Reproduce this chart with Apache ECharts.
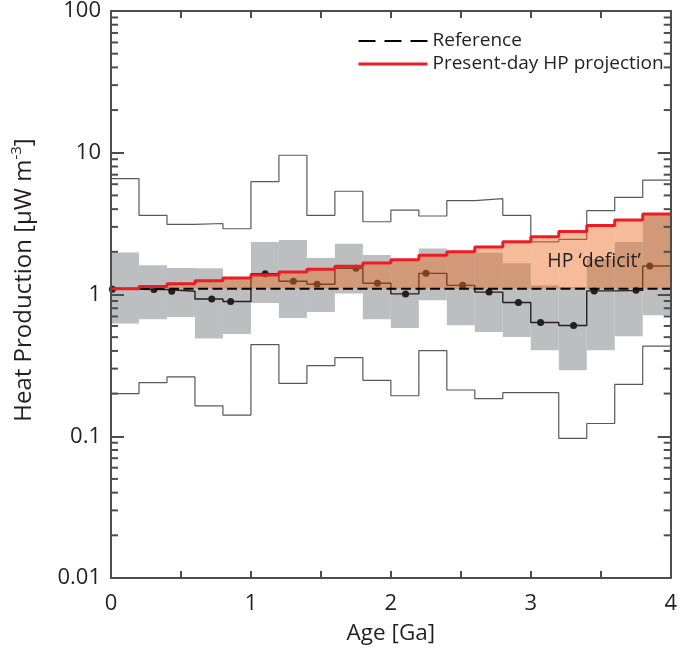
<!DOCTYPE html>
<html>
<head>
<meta charset="utf-8">
<script src="https://cdn.jsdelivr.net/npm/echarts@6/dist/echarts.min.js"></script>
<style>
  html, body { margin: 0; padding: 0; background: #fff; }
  #chart { width: 680px; height: 653px; }
</style>
</head>
<body>
<div id="chart"></div>
<script>
// Age bins (Ga), 0.2 Ga wide
const binEdges = [0, 0.2, 0.4, 0.6, 0.8, 1.0, 1.2, 1.4, 1.6, 1.8, 2.0, 2.2, 2.4, 2.6, 2.8, 3.0, 3.2, 3.4, 3.6, 3.8, 4.0];

// Heat production per bin (µW m^-3)
const upperEnvelope = [6.56, 3.62, 3.12, 3.17, 2.91, 6.25, 9.6, 3.62, 5.35, 3.26, 3.94, 3.58, 4.59, 4.74, 3.62, 2.35, 2.45, 3.90, 4.85, 6.4];
const lowerEnvelope = [0.200, 0.239, 0.262, 0.164, 0.141, 0.443, 0.236, 0.315, 0.359, 0.248, 0.193, 0.402, 0.212, 0.184, 0.203, 0.203, 0.0965, 0.123, 0.232, 0.433];
const quartileHigh = [1.98, 1.61, 1.54, 1.53, 1.32, 2.35, 2.42, 1.81, 2.28, 1.90, 1.76, 2.11, 2.00, 1.97, 1.66, 1.16, 1.13, 1.78, 2.35, 3.73];
const quartileLow = [0.624, 0.669, 0.695, 0.489, 0.527, 0.872, 0.684, 0.753, 1.016, 0.669, 0.581, 0.911, 0.607, 0.544, 0.502, 0.404, 0.292, 0.404, 0.508, 0.714];
const medianHP = [1.09, 1.085, 1.055, 0.93, 0.893, 1.40, 1.24, 1.18, 1.53, 1.20, 1.01, 1.41, 1.16, 1.04, 0.878, 0.634, 0.604, 1.06, 1.07, 1.59];
const medianAge = [0.01, 0.307, 0.434, 0.72, 0.855, 1.102, 1.303, 1.473, 1.751, 1.904, 2.105, 2.251, 2.513, 2.702, 2.912, 3.07, 3.306, 3.453, 3.752, 3.851];
const projectedHP = [1.10, 1.14, 1.19, 1.25, 1.31, 1.37, 1.44, 1.51, 1.58, 1.67, 1.76, 1.89, 2.00, 2.16, 2.36, 2.55, 2.78, 3.07, 3.36, 3.70];
const referenceHP = 1.1;

// Axis tick labels
const xTickLabels = ['0', '1', '2', '3', '4'];
const yTickLabels = ['0.01', '0.1', '1', '10', '100'];

const FONT = 'Open Sans';
const AXIS_COLOR = '#4d4d4d';
const TEXT_COLOR = '#231f20';

// Step-line points: one per bin edge, last bin value repeated at the final edge
function stepPoints(values) {
  return binEdges.map((x, i) => [x, values[Math.min(i, values.length - 1)]]);
}
// Rectangles per bin: [x0, x1, low, high]
function binRects(lows, highs) {
  return lows.map((lo, i) => [binEdges[i], binEdges[i + 1], lo, highs[i]]);
}

// Minor ticks of the log axis (2..9 within each decade)
const minorTickValues = [];
for (let d = -2; d < 2; d++) {
  for (let k = 2; k <= 9; k++) minorTickValues.push([0, k * Math.pow(10, d)]);
}

function rectRenderer(fill) {
  return function (params, api) {
    const p0 = api.coord([api.value(0), api.value(3)]);
    const p1 = api.coord([api.value(1), api.value(2)]);
    return {
      type: 'rect',
      shape: { x: p0[0], y: p0[1], width: p1[0] - p0[0], height: p1[1] - p0[1] },
      style: { fill: fill, stroke: null }
    };
  };
}

const chart = echarts.init(document.getElementById('chart'), null, { renderer: 'canvas' });

const baseX = {
  type: 'value', min: 0, max: 4, interval: 0.5, z: 10,
  axisLine: { show: true, onZero: false, lineStyle: { color: AXIS_COLOR, width: 2 } },
  axisTick: { show: true, inside: true, length: 7, lineStyle: { color: AXIS_COLOR, width: 2 } },
  splitLine: { show: false }
};
const baseY = {
  type: 'log', logBase: 10, min: 0.01, max: 100, z: 10,
  axisLine: { show: true, onZero: false, lineStyle: { color: AXIS_COLOR, width: 2 } },
  axisTick: { show: true, inside: true, length: 13, lineStyle: { color: AXIS_COLOR, width: 2 } },
  splitLine: { show: false }
};

chart.setOption({
  animation: false,
  backgroundColor: '#fff',
  grid: { left: 111, right: 4, top: 11, bottom: 75, containLabel: false },
  xAxis: [
    Object.assign({}, baseX, {
      position: 'bottom',
      axisLabel: {
        margin: 15, fontFamily: FONT, fontSize: 22, color: TEXT_COLOR,
        formatter: v => (Math.abs(v - Math.round(v)) < 1e-9 ? xTickLabels[Math.round(v)] : '')
      },
      name: 'Age [Ga]', nameLocation: 'middle', nameGap: 44,
      nameTextStyle: { fontFamily: FONT, fontSize: 22.5, color: TEXT_COLOR }
    }),
    Object.assign({}, baseX, { position: 'top', axisLabel: { show: false } })
  ],
  yAxis: [
    Object.assign({}, baseY, {
      position: 'left',
      axisLabel: {
        margin: 10, fontFamily: FONT, fontSize: 22, color: TEXT_COLOR,
        formatter: v => yTickLabels[Math.round(Math.log10(v)) + 2]
      }
    }),
    Object.assign({}, baseY, { position: 'right', axisLabel: { show: false } })
  ],
  legend: {
    orient: 'vertical', left: 357, top: 31, padding: 0,
    itemWidth: 69, itemHeight: 12, itemGap: 3,
    itemStyle: { opacity: 0 },
    textStyle: { fontFamily: FONT, fontSize: 19, color: TEXT_COLOR, lineHeight: 20 },
    data: [
      { name: 'Reference', lineStyle: { type: [17, 9], width: 2 } },
      { name: 'Present-day HP projection', lineStyle: { width: 3 } }
    ]
  },
  graphic: [
    {
      type: 'text', x: 24, y: 280, rotation: Math.PI / 2,
      style: {
        text: '{t|Heat Production [μW m}{s|-3}{t|]}',
        align: 'center', verticalAlign: 'middle',
        rich: {
          t: { fontFamily: FONT, fontSize: 24, lineHeight: 30, fill: TEXT_COLOR, verticalAlign: 'middle' },
          s: { fontFamily: FONT, fontSize: 15, lineHeight: 16, fill: TEXT_COLOR, verticalAlign: 'top' }
        }
      }
    },
    {
      type: 'text', x: 594, y: 261,
      style: {
        text: 'HP ‘deficit’', align: 'center', verticalAlign: 'middle',
        fontFamily: FONT, fontSize: 19.5, fill: TEXT_COLOR
      },
      z: 100
    }
  ],
  series: [
    {
      name: 'Interquartile range', type: 'custom', z: 1, silent: true,
      renderItem: rectRenderer('#bcbec0'),
      encode: { x: [0, 1], y: [2, 3] },
      data: binRects(quartileLow, quartileHigh)
    },
    {
      name: 'Upper envelope', type: 'line', step: 'end', z: 2, symbol: 'none', silent: true,
      lineStyle: { color: '#58595b', width: 1.2 },
      data: stepPoints(upperEnvelope)
    },
    {
      name: 'Lower envelope', type: 'line', step: 'end', z: 2, symbol: 'none', silent: true,
      lineStyle: { color: '#58595b', width: 1.2 },
      data: stepPoints(lowerEnvelope)
    },
    {
      name: 'Median', type: 'line', step: 'end', z: 3, symbol: 'none', silent: true,
      lineStyle: { color: TEXT_COLOR, width: 1.4 },
      data: stepPoints(medianHP)
    },
    {
      name: 'Median points', type: 'scatter', z: 3, symbolSize: 7, silent: true,
      itemStyle: { color: TEXT_COLOR, opacity: 1 },
      data: medianAge.map((a, i) => [a, medianHP[i]])
    },
    {
      name: 'HP deficit', type: 'custom', z: 4, silent: true,
      renderItem: rectRenderer('rgba(235,110,35,0.46)'),
      encode: { x: [0, 1], y: [2, 3] },
      data: binRects(projectedHP.map(() => referenceHP), projectedHP)
    },
    {
      name: 'Reference', type: 'line', z: 5, symbol: 'none', silent: true,
      itemStyle: { color: '#000' },
      lineStyle: { color: '#000', width: 2, type: [10, 4.5] },
      data: [[0, referenceHP], [4, referenceHP]]
    },
    {
      name: 'Present-day HP projection', type: 'line', step: 'end', z: 6, symbol: 'none', silent: true,
      itemStyle: { color: '#ed1c24' },
      lineStyle: { color: '#ed1c24', width: 3 },
      data: stepPoints(projectedHP)
    },
    {
      name: 'Minor ticks', type: 'custom', z: 11, silent: true,
      encode: { x: 0, y: 1 },
      data: minorTickValues,
      renderItem: function (params, api) {
        const v = api.value(1);
        const l = api.coord([0, v]);
        const r = api.coord([4, v]);
        const s = { stroke: AXIS_COLOR, lineWidth: 2 };
        return {
          type: 'group',
          children: [
            { type: 'line', shape: { x1: l[0], y1: l[1], x2: l[0] + 7, y2: l[1] }, style: s },
            { type: 'line', shape: { x1: r[0] - 7, y1: r[1], x2: r[0], y2: r[1] }, style: s }
          ]
        };
      }
    }
  ]
});
</script>
</body>
</html>
